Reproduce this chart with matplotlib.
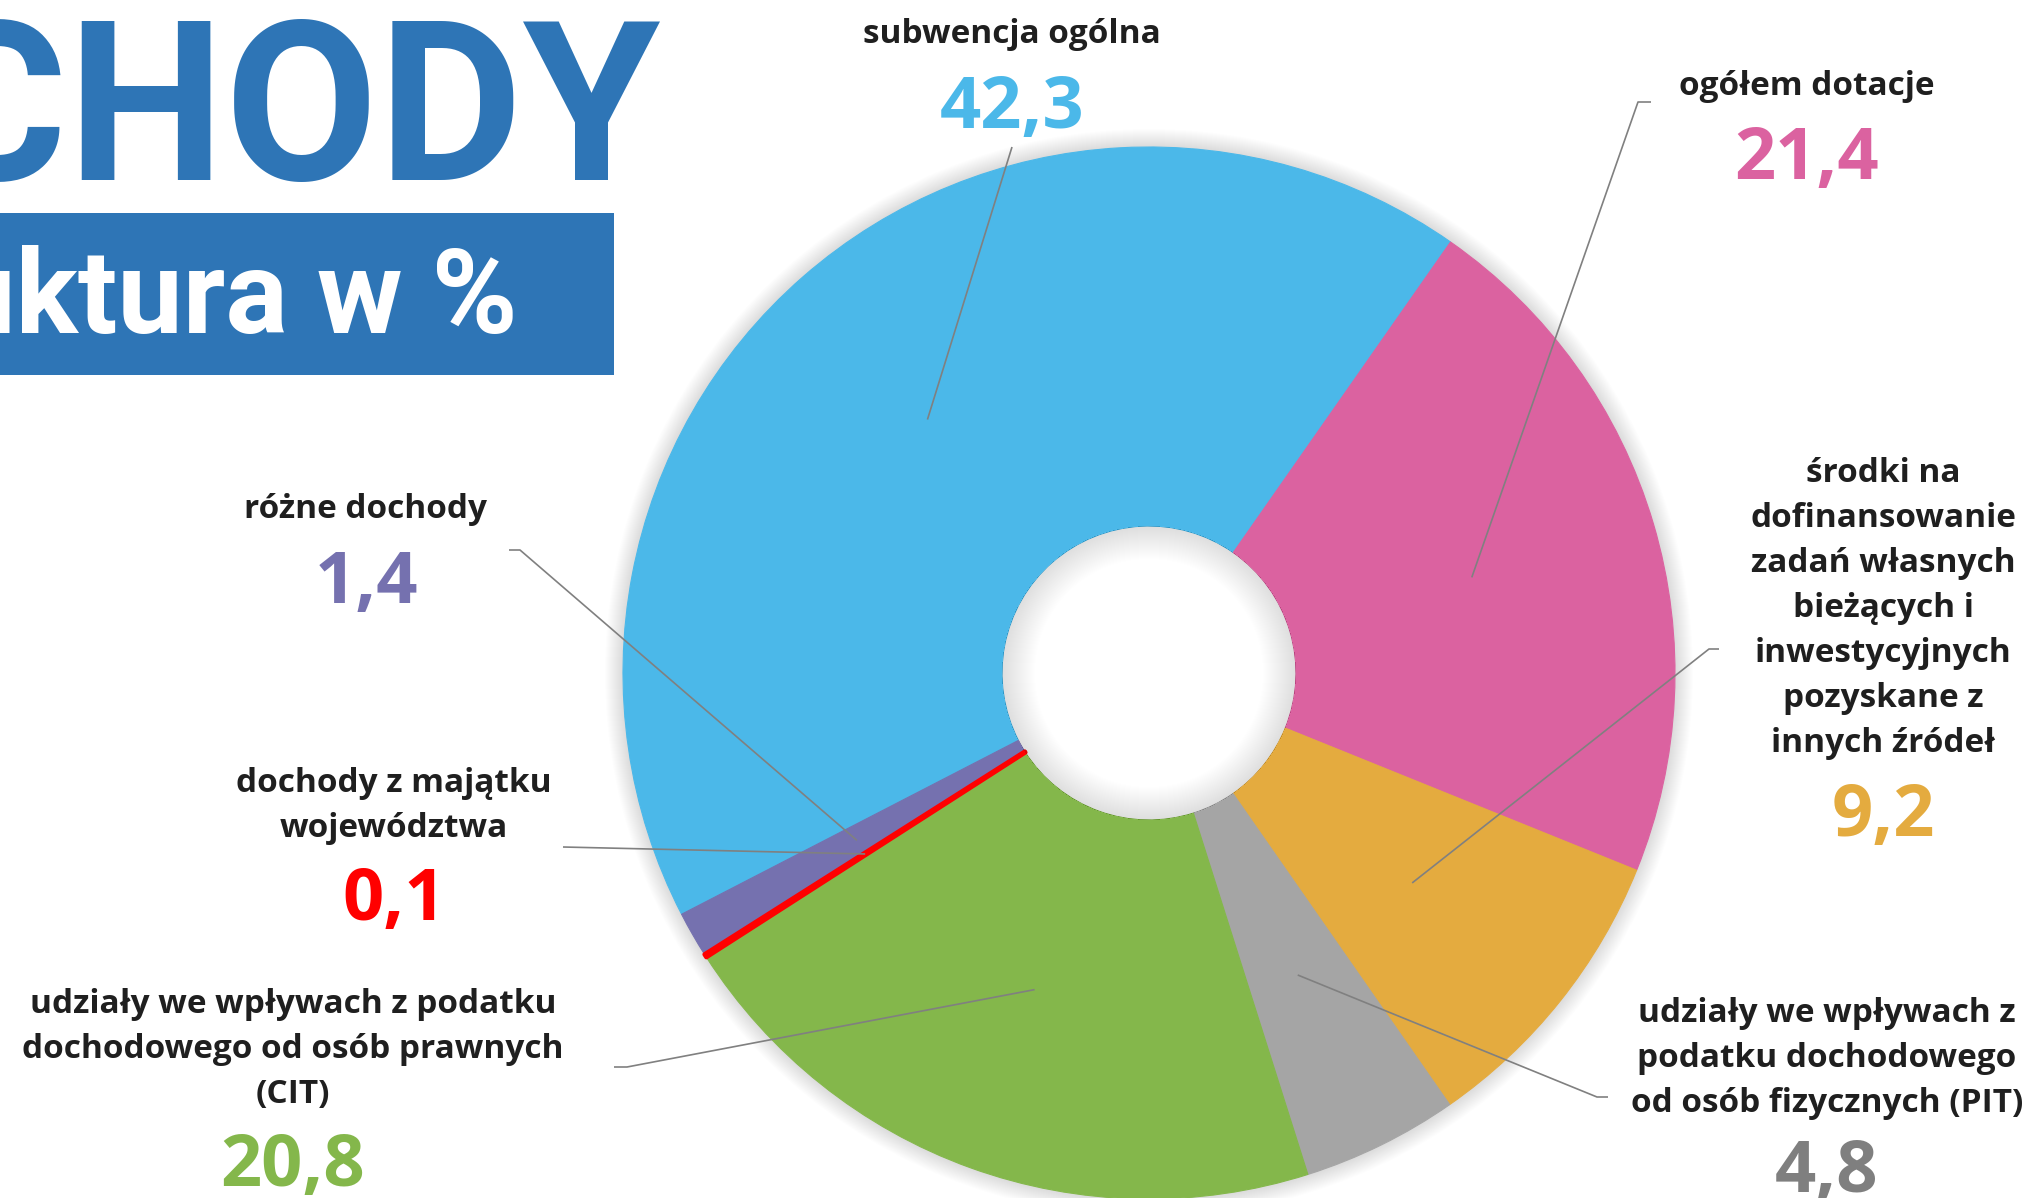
import numpy as np
import matplotlib.pyplot as plt
import matplotlib.patches as patches

# === Data ===
categories = [
    'subwencja ogólna',
    'ogółem dotacje',
    'środki na\ndofinansowanie\nzadań własnych\nbieżących i\ninwestycyjnych\npozyskane z\ninnych źródeł',
    'udziały we wpływach z\npodatku dochodowego\nod osób fizycznych (PIT)',
    'udziały we wpływach z podatku\ndochodowego od osób prawnych\n(CIT)',
    'dochody z majątku\nwojewództwa',
    'różne dochody',
]
shares = [42.3, 21.4, 9.2, 4.8, 20.8, 0.1, 1.4]
slice_colors = ['#4BB8E9', '#DB62A0', '#E4AB3F', '#A5A5A5', '#84B74B', '#FF0000', '#7571AF']
value_colors = ['#4BB8E9', '#DB62A0', '#E4AB3F', '#7F7F7F', '#84B74B', '#FF0000', '#7571AF']

# === Layout (pixels, measured from top-left) ===
W, H = 2041, 1198
center = (1149, 673)
radius = 526
hole = 147
leader_r = 0.64
# label x centre, baseline of first line, baseline of value
label_x = [1012, 1807, 1883, 1827, 293, 394, 366]
label_y = [43, 95, 482, 1022, 1013, 792, 518]
value_y = [128, 179, 836, 1192, 1186, 920, 603]
line_step = 45
# fixed start of each leader (near the label), the end is on the slice
leader_start = [
    [(1012, 147)],
    [(1651, 102), (1638, 102)],
    [(1719, 649), (1709, 649)],
    [(1608, 1097), (1597, 1097)],
    [(614, 1067), (627, 1067)],
    [(563, 847)],
    [(509, 550), (520, 550)],
]

text_font = 'Open Sans'
title_font = 'Roboto'
title_blue = '#2E75B6'

fig = plt.figure(figsize=(W / 100, H / 100), dpi=100)
ax = fig.add_axes([0, 0, 1, 1])

# y axis is flipped (pixel coords), so a data-ccw pie reads clockwise on screen;
# the first slice starts at 207.3 deg on screen and ends at 55 deg
wedges, _ = ax.pie(shares, colors=slice_colors, startangle=-207.3, counterclock=True,
                   radius=radius, center=center, frame=False,
                   wedgeprops=dict(width=radius - hole, linewidth=0.8))
for w, c in zip(wedges, slice_colors):
    w.set_edgecolor(c)
    w.set_zorder(2)
# the 0.1 slice is only visible as a thick red edge
wedges[5].set_linewidth(3.2)
wedges[5].set_joinstyle('round')
wedges[5].set_zorder(3)

# soft shadow just outside the ring
for k in range(1, 19):
    ax.add_patch(patches.Annulus(center, radius + k, k, facecolor='k', alpha=0.008,
                                 linewidth=0, zorder=1))
# soft shadow inside the hole
for k in range(1, 34):
    ax.add_patch(patches.Annulus(center, hole, k, facecolor='k',
                                 alpha=0.0035, linewidth=0, zorder=4))

# leader lines, ending at each slice's mid angle
for w, pts in zip(wedges, leader_start):
    mid = np.deg2rad((w.theta1 + w.theta2) / 2)
    end = (center[0] + leader_r * radius * np.cos(mid),
           center[1] + leader_r * radius * np.sin(mid))
    xs = [p[0] for p in pts] + [end[0]]
    ys = [p[1] for p in pts] + [end[1]]
    ax.plot(xs, ys, color='#808080', linewidth=1.2, zorder=5,
            solid_capstyle='butt')

# labels and values
for i, (name, val) in enumerate(zip(categories, shares)):
    for j, line in enumerate(name.split('\n')):
        ax.text(label_x[i], label_y[i] + j * line_step, line, ha='center',
                va='baseline', fontsize=24, fontweight='bold', color='#1F1F1F',
                family=text_font, zorder=6)
    ax.text(label_x[i], value_y[i], f'{val:.1f}'.replace('.', ','), ha='center',
            va='baseline', fontsize=52, fontweight='bold', color=value_colors[i],
            family=text_font, zorder=6)

# title block (cropped on the left, as in the original)
ax.text(661, 180, 'DOCHODY', ha='right', va='baseline', fontsize=160,
        fontweight='bold', color=title_blue, family=title_font)
ax.add_patch(patches.Rectangle((0, 213), 614, 162, facecolor=title_blue,
                               edgecolor='none'))
ax.text(518, 333, 'struktura w %', ha='right', va='baseline', fontsize=84,
        fontweight='bold', color='white', family=title_font)

ax.set_xlim(0, W)
ax.set_ylim(H, 0)
ax.set_aspect('equal')
ax.axis('off')

fig.savefig('out.png', dpi=100)
